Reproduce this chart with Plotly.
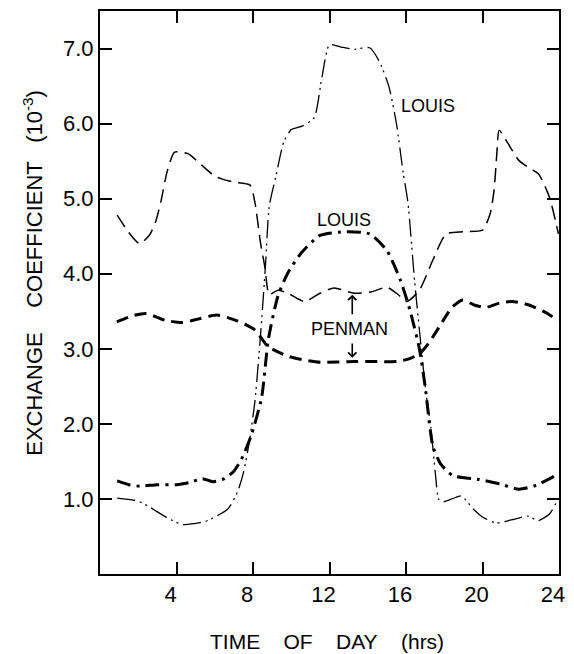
import plotly.graph_objects as go

# ---- data ----
louis_thin_x = [0.9, 2.0, 2.6, 3.5, 4.3, 5.5, 6.7, 7.2, 7.5, 7.8, 8.1, 8.4, 8.65, 8.85, 9.2, 9.6, 10.0, 10.6,
                11.2, 11.6, 12.0, 12.6, 13.3, 14.1, 14.6, 15.1, 15.5, 15.85, 16.1, 16.45, 16.8, 17.05, 17.3,
                17.55, 17.7, 17.9, 18.4, 18.9, 19.5, 20.0, 20.7, 21.5, 22.4, 22.9, 23.5, 23.9]
louis_thin_y = [1.01, 0.97, 0.89, 0.75, 0.66, 0.70, 0.87, 1.10, 1.35, 1.75, 2.30, 3.20, 4.10, 4.90, 5.30, 5.75,
                5.92, 5.97, 6.08, 6.61, 7.05, 7.02, 6.99, 7.01, 6.83, 6.50, 6.00, 5.35, 4.95, 3.90, 3.00, 2.40,
                1.95, 1.30, 1.00, 0.96, 1.00, 1.04, 0.87, 0.76, 0.68, 0.72, 0.77, 0.71, 0.80, 0.97]

louis_thick_x = [0.9, 1.5, 2.1, 3.0, 4.0, 4.7, 5.35, 5.9, 6.5, 7.0, 7.4, 7.9, 8.45, 8.8, 9.3, 9.8, 10.5, 11.5,
                 12.9, 14.1, 15.0, 15.7, 16.2, 16.7, 17.0, 17.4, 17.8, 18.45, 19.8, 20.9, 21.9, 22.8, 23.8]
louis_thick_y = [1.24, 1.19, 1.17, 1.19, 1.19, 1.22, 1.27, 1.23, 1.27, 1.37, 1.53, 1.84, 2.35, 3.12, 3.70, 4.00,
                 4.27, 4.51, 4.56, 4.53, 4.31, 3.92, 3.52, 3.00, 2.50, 1.71, 1.47, 1.31, 1.26, 1.20, 1.13, 1.18, 1.31]

penman_thin_x = [0.9, 1.5, 2.07, 2.6, 2.93, 3.2, 3.5, 3.9, 4.6, 5.3, 6.0, 6.4, 7.0, 7.85, 8.1, 8.4, 8.62, 8.85,
                 9.3, 9.83, 10.7, 11.5, 12.24, 13.28, 14.2, 15.0, 15.6, 16.04, 16.7, 17.4, 18.1, 19.0, 20.0,
                 20.4, 20.6, 20.75, 20.87, 21.3, 21.9, 22.5, 22.93, 23.5, 23.97]
penman_thin_y = [4.78, 4.55, 4.40, 4.52, 4.71, 4.98, 5.35, 5.62, 5.60, 5.45, 5.30, 5.26, 5.22, 5.18, 4.95, 4.40,
                 4.09, 3.72, 3.78, 3.74, 3.63, 3.74, 3.81, 3.74, 3.76, 3.82, 3.72, 3.63, 3.78, 4.18, 4.53, 4.56,
                 4.58, 4.80, 5.10, 5.60, 5.91, 5.75, 5.51, 5.40, 5.33, 5.02, 4.53]

penman_thick_x = [0.88, 1.7, 2.42, 3.4, 4.31, 5.2, 6.12, 7.2, 8.1, 8.79, 9.83, 10.7, 11.55, 13.28, 14.5, 15.52,
                  16.2, 16.73, 17.2, 17.76, 18.4, 18.97, 19.6, 20.17, 20.9, 21.55, 22.2, 22.76, 23.4, 23.97]
penman_thick_y = [3.36, 3.44, 3.47, 3.38, 3.35, 3.40, 3.45, 3.37, 3.25, 3.03, 2.90, 2.85, 2.82, 2.83, 2.83, 2.83,
                  2.87, 2.94, 3.08, 3.30, 3.55, 3.65, 3.58, 3.55, 3.61, 3.63, 3.60, 3.55, 3.47, 3.37]

x_tick_vals = [4, 8, 12, 16, 20, 24]
x_tick_text = ["4", "8", "12", "16", "20", "24"]
y_tick_vals = [1, 2, 3, 4, 5, 6, 7]
y_tick_text = ["1.0", "2.0", "3.0", "4.0", "5.0", "6.0", "7.0"]

FONT = "Liberation Sans, Arial, sans-serif"
NB = "\u00a0"

fig = go.Figure()
fig.add_trace(go.Scatter(x=louis_thin_x, y=louis_thin_y, mode="lines",
                         line=dict(color="black", width=1.3, dash="18px,5px,2px,4px,2px,5px",
                                   shape="spline", smoothing=0.6)))
fig.add_trace(go.Scatter(x=louis_thick_x, y=louis_thick_y, mode="lines",
                         line=dict(color="black", width=3, dash="14px,6px,3px,6px",
                                   shape="spline", smoothing=0.6)))
fig.add_trace(go.Scatter(x=penman_thin_x, y=penman_thin_y, mode="lines",
                         line=dict(color="black", width=1.5, dash="14px,7px",
                                   shape="spline", smoothing=0.6)))
fig.add_trace(go.Scatter(x=penman_thick_x, y=penman_thick_y, mode="lines",
                         line=dict(color="black", width=3, dash="12px,7px",
                                   shape="spline", smoothing=0.6)))

ann = []
ann.append(dict(x=15.62, y=6.24, xref="x", yref="y", text="LOUIS", showarrow=False,
                xanchor="left", yanchor="middle", font=dict(size=18, color="black", family=FONT)))
ann.append(dict(x=12.76, y=4.71, xref="x", yref="y", text="LOUIS", showarrow=False,
                xanchor="center", yanchor="middle", font=dict(size=18, color="black", family=FONT)))
ann.append(dict(x=13.06, y=3.27, xref="x", yref="y", text="PENMAN", showarrow=False,
                xanchor="center", yanchor="middle", font=dict(size=18, color="black", family=FONT)))
# arrows
ann.append(dict(x=13.19, y=3.72, ax=13.19, ay=3.44, xref="x", yref="y", axref="x", ayref="y",
                text="", showarrow=True, arrowhead=4, arrowwidth=1.6, arrowsize=1, arrowcolor="black"))
ann.append(dict(x=13.19, y=2.88, ax=13.19, ay=3.09, xref="x", yref="y", axref="x", ayref="y",
                text="", showarrow=True, arrowhead=4, arrowwidth=1.6, arrowsize=1, arrowcolor="black"))
# axis titles
ann.append(dict(x=-0.1466, y=0.5345, xref="paper", yref="paper", textangle=-90,
                text="EXCHANGE" + NB * 4 + "COEFFICIENT" + NB * 3 + "(10<sup>-3</sup>)",
                showarrow=False, xanchor="center", yanchor="middle",
                font=dict(size=22, color="black", family=FONT)))
ann.append(dict(x=0.4935, y=-0.1204, xref="paper", yref="paper",
                text="TIME" + NB * 4 + "OF" + NB * 4 + "DAY" + NB * 4 + "(hrs)",
                showarrow=False, xanchor="center", yanchor="middle",
                font=dict(size=21, color="black", family=FONT)))

fig.update_layout(
    width=574, height=654,
    margin=dict(l=100, r=10, t=9, b=80),
    paper_bgcolor="white", plot_bgcolor="white",
    showlegend=False,
    annotations=ann,
    font=dict(family=FONT, color="black"),
)
fig.update_xaxes(range=[0, 24], tickvals=x_tick_vals, ticktext=x_tick_text,
                 ticks="inside", ticklen=12, tickwidth=1.5, tickcolor="black",
                 showline=True, linecolor="black", linewidth=2, mirror="ticks",
                 showgrid=False, zeroline=False,
                 ticklabelshift=-6,
                 tickfont=dict(size=22, color="black", family=FONT))
fig.update_yaxes(range=[0.0, 7.5], tickvals=y_tick_vals, ticktext=y_tick_text,
                 ticks="inside", ticklen=12, tickwidth=1.5, tickcolor="black",
                 showline=True, linecolor="black", linewidth=2, mirror="ticks",
                 showgrid=False, zeroline=False,
                 tickfont=dict(size=22, color="black", family=FONT))

fig.write_html("out.html")
